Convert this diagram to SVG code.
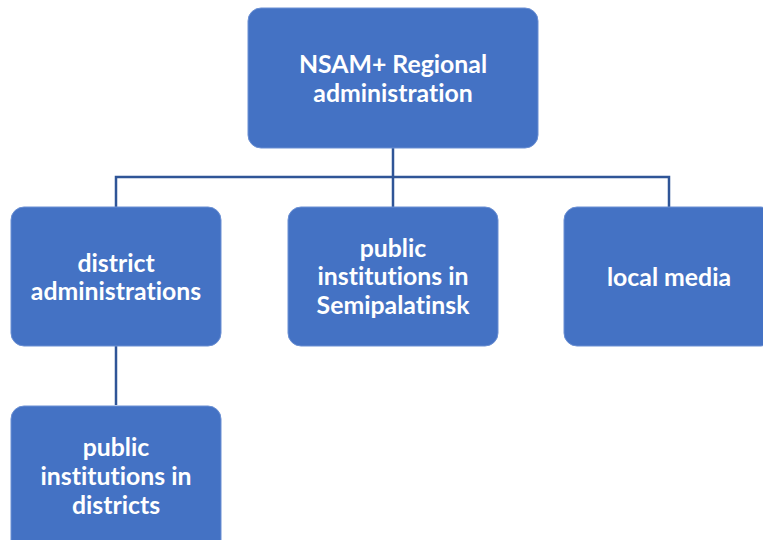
<svg xmlns="http://www.w3.org/2000/svg" width="763" height="540" viewBox="0 0 763 540">
  <style>
    .box { fill: #4472C4; stroke: #6A8FD3; stroke-width: 1; }
    .lbl { fill: #FFFFFF; font-family: Lato, "Open Sans", "Liberation Sans", sans-serif; font-weight: bold; font-size: 24.8px; text-anchor: middle; font-variant-ligatures: none; }
    .link { fill: none; stroke: #2F5597; stroke-width: 2.5; }
  </style>
  <rect width="763" height="540" fill="#FFFFFF"/>

  <g id="connectors">
    <path class="link" d="M393 148 V207"/>
    <path class="link" d="M116 207 V177 H669 V207"/>
    <path class="link" d="M116 346 V405"/>
  </g>

  <g id="regional-administration">
    <rect class="box" x="248" y="8" width="290" height="140" rx="13"/>
    <text class="lbl" x="393" y="73">NSAM+ Regional</text>
    <text class="lbl" x="393" y="102">administration</text>
  </g>

  <g id="district-administrations">
    <rect class="box" x="11" y="207" width="210" height="139" rx="13"/>
    <text class="lbl" x="116" y="272">district</text>
    <text class="lbl" x="116" y="300">administrations</text>
  </g>

  <g id="institutions-semipalatinsk">
    <rect class="box" x="288" y="207" width="210" height="139" rx="13"/>
    <text class="lbl" x="393" y="257">public</text>
    <text class="lbl" x="393" y="285">institutions in</text>
    <text class="lbl" x="393" y="314">Semipalatinsk</text>
  </g>

  <g id="local-media">
    <rect class="box" x="564" y="207" width="210" height="139" rx="13"/>
    <text class="lbl" x="669" y="286">local media</text>
  </g>

  <g id="institutions-districts">
    <rect class="box" x="11" y="406" width="210" height="150" rx="13"/>
    <text class="lbl" x="116" y="456">public</text>
    <text class="lbl" x="116" y="485">institutions in</text>
    <text class="lbl" x="116" y="514">districts</text>
  </g>
</svg>
